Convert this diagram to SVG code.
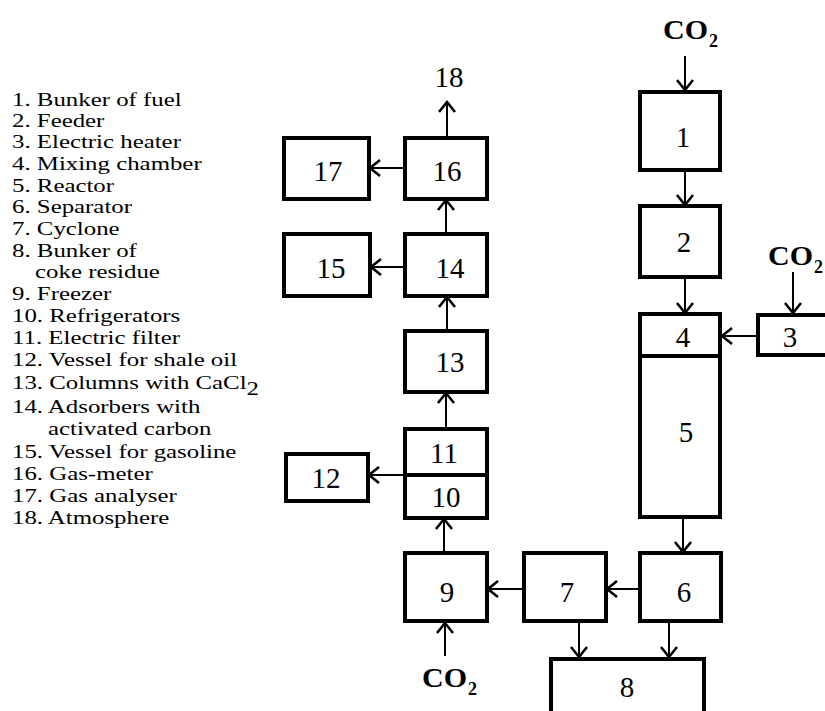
<svg xmlns="http://www.w3.org/2000/svg" width="825" height="711" viewBox="0 0 825 711">
<style>
.box{fill:#fff;stroke:#000;stroke-width:4}
.num{font-family:"Liberation Serif","Times New Roman",serif;font-size:29px;text-anchor:middle;fill:#000}
.lg{font-family:"Liberation Serif","Times New Roman",serif;font-size:18px;fill:#000}
.co{font-family:"Liberation Serif","Times New Roman",serif;font-size:28px;font-weight:bold;fill:#000}
.sub{font-family:"Liberation Serif","Times New Roman",serif;font-size:18px;font-weight:bold;fill:#000}
.cn{stroke:#000;stroke-width:2;fill:none;marker-end:url(#ah)}
</style>
<defs>
<marker id="ah" markerUnits="userSpaceOnUse" markerWidth="24" markerHeight="24" viewBox="-12 -12 24 24" refX="0" refY="0" orient="auto">
<path d="M-10,-8 L0,0 L-10,8" fill="none" stroke="#000" stroke-width="2.6"/>
</marker>
</defs>
<rect width="825" height="711" fill="#fff"/>

<g id="legend" transform="scale(1.38,1)">
<text class="lg" x="8.7" y="106">1. Bunker of fuel</text>
<text class="lg" x="8.7" y="127">2. Feeder</text>
<text class="lg" x="8.7" y="148">3. Electric heater</text>
<text class="lg" x="8.7" y="170">4. Mixing chamber</text>
<text class="lg" x="8.7" y="192">5. Reactor</text>
<text class="lg" x="8.7" y="213">6. Separator</text>
<text class="lg" x="8.7" y="235">7. Cyclone</text>
<text class="lg" x="8.7" y="257">8. Bunker of</text>
<text class="lg" x="25.4" y="278">coke residue</text>
<text class="lg" x="8.7" y="300">9. Freezer</text>
<text class="lg" x="8.7" y="322">10. Refrigerators</text>
<text class="lg" x="8.7" y="344">11. Electric filter</text>
<text class="lg" x="8.7" y="366">12. Vessel for shale oil</text>
<text class="lg" x="8.7" y="389">13. Columns with CaCl<tspan dy="6">2</tspan></text>
<text class="lg" x="8.7" y="413">14. Adsorbers with</text>
<text class="lg" x="34.8" y="435">activated carbon</text>
<text class="lg" x="8.7" y="458">15. Vessel for gasoline</text>
<text class="lg" x="8.7" y="480">16. Gas-meter</text>
<text class="lg" x="8.7" y="502">17. Gas analyser</text>
<text class="lg" x="8.7" y="524">18. Atmosphere</text>
</g>

<g id="connectors">
<line class="cn" x1="685" y1="56" x2="685" y2="90"/>
<line class="cn" x1="685" y1="171" x2="685" y2="205"/>
<line class="cn" x1="685" y1="277" x2="685" y2="313"/>
<line class="cn" x1="793" y1="272" x2="793" y2="313"/>
<line class="cn" x1="757" y1="336" x2="722" y2="336"/>
<line class="cn" x1="683" y1="517" x2="683" y2="552"/>
<line class="cn" x1="639" y1="589" x2="607" y2="589"/>
<line class="cn" x1="523" y1="589" x2="488" y2="589"/>
<line class="cn" x1="579" y1="622" x2="579" y2="657"/>
<line class="cn" x1="669" y1="622" x2="669" y2="657"/>
<line class="cn" x1="445" y1="656" x2="445" y2="623"/>
<line class="cn" x1="444" y1="552" x2="444" y2="519"/>
<line class="cn" x1="446" y1="428" x2="446" y2="393"/>
<line class="cn" x1="447" y1="330" x2="447" y2="297"/>
<line class="cn" x1="446" y1="233" x2="446" y2="200"/>
<line class="cn" x1="447" y1="137" x2="447" y2="102"/>
<line class="cn" x1="404" y1="168" x2="370" y2="168"/>
<line class="cn" x1="404" y1="267" x2="371" y2="267"/>
<line class="cn" x1="404" y1="475" x2="369" y2="475"/>
</g>

<g id="co2-top"><text class="co" x="663" y="39" textLength="45" lengthAdjust="spacingAndGlyphs">CO</text><text class="sub" x="709" y="47">2</text></g>
<g id="co2-right"><text class="co" x="768" y="265" textLength="45" lengthAdjust="spacingAndGlyphs">CO</text><text class="sub" x="814" y="273">2</text></g>
<g id="co2-bottom"><text class="co" x="422" y="687" textLength="45" lengthAdjust="spacingAndGlyphs">CO</text><text class="sub" x="468" y="695">2</text></g>
<g id="n18"><text class="num" x="449" y="87">18</text></g>

<g id="n1"><rect class="box" x="640" y="92" width="80" height="78"/><text class="num" x="683" y="147">1</text></g>
<g id="n2"><rect class="box" x="640" y="206" width="80" height="71"/><text class="num" x="684" y="252">2</text></g>
<g id="n3"><rect class="box" x="758" y="315" width="80" height="40"/><text class="num" x="790" y="347">3</text></g>
<g id="n4"><rect class="box" x="640" y="314" width="80" height="42"/><text class="num" x="683" y="347">4</text></g>
<g id="n5"><rect class="box" x="640" y="356" width="80" height="161"/><text class="num" x="686" y="442">5</text></g>
<g id="n6"><rect class="box" x="640" y="553" width="81" height="68"/><text class="num" x="684" y="602">6</text></g>
<g id="n7"><rect class="box" x="524" y="553" width="82" height="68"/><text class="num" x="567" y="602">7</text></g>
<g id="n8"><rect class="box" x="551" y="659" width="153" height="60"/><text class="num" x="627" y="697">8</text></g>
<g id="n9"><rect class="box" x="405" y="553" width="82" height="68"/><text class="num" x="447" y="602">9</text></g>
<g id="n10-11"><rect class="box" x="405" y="429" width="82" height="89"/><line x1="405" y1="475" x2="487" y2="475" stroke="#000" stroke-width="4"/><text class="num" x="444" y="463">11</text><text class="num" x="446" y="507">10</text></g>
<g id="n12"><rect class="box" x="286" y="454" width="82" height="47"/><text class="num" x="326" y="488">12</text></g>
<g id="n13"><rect class="box" x="405" y="331" width="82" height="61"/><text class="num" x="450" y="372">13</text></g>
<g id="n14"><rect class="box" x="405" y="234" width="82" height="62"/><text class="num" x="450" y="278">14</text></g>
<g id="n15"><rect class="box" x="284" y="234" width="86" height="62"/><text class="num" x="331" y="278">15</text></g>
<g id="n16"><rect class="box" x="405" y="138" width="82" height="61"/><text class="num" x="447" y="181">16</text></g>
<g id="n17"><rect class="box" x="284" y="138" width="85" height="61"/><text class="num" x="328" y="181">17</text></g>
</svg>
